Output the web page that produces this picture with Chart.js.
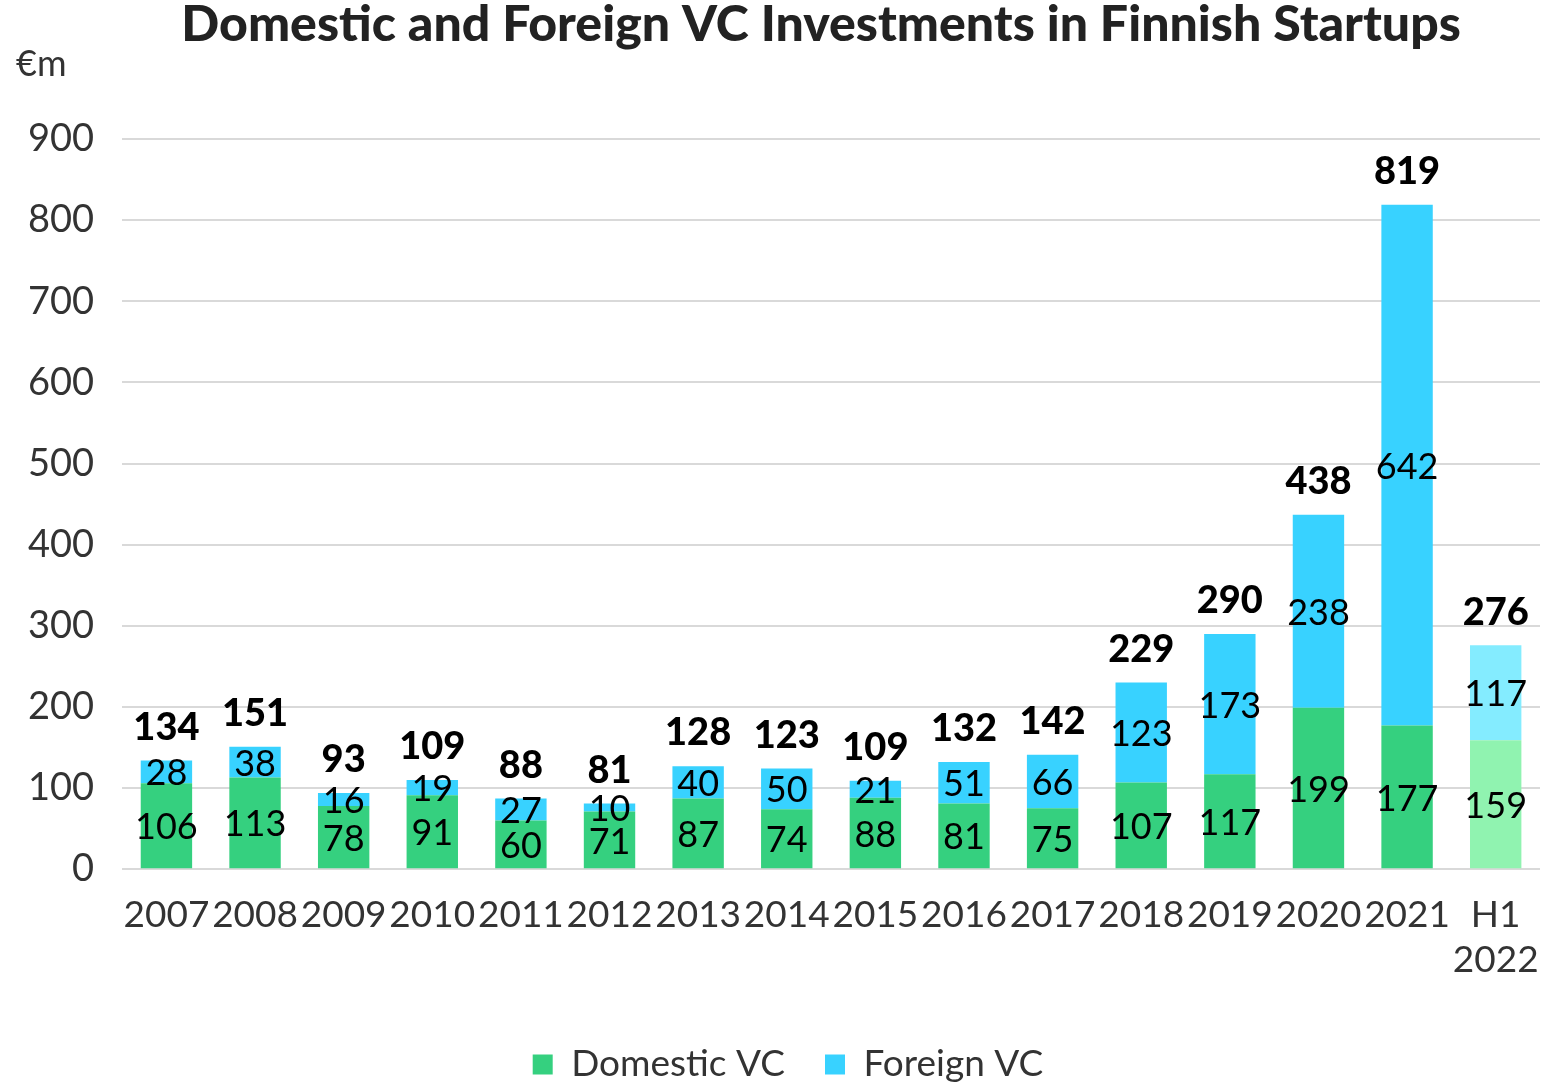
<!DOCTYPE html>
<html>
<head>
<meta charset="utf-8">
<script src="https://cdn.jsdelivr.net/npm/chart.js@4.4.0/dist/chart.umd.min.js"></script>
<style>
  html, body { margin: 0; padding: 0; background: #fff; }
  #wrap { width: 1560px; height: 1085px; }
</style>
</head>
<body>
<div id="wrap"><canvas id="myChart" width="1560" height="1085"></canvas></div>
<script>
const years = ["2007", "2008", "2009", "2010", "2011", "2012", "2013", "2014",
               "2015", "2016", "2017", "2018", "2019", "2020", "2021", ["H1", "2022"]];
const domestic = [106, 113, 78, 91, 60, 71, 87, 74, 88, 81, 75, 107, 117, 199, 177, 159];
const foreign = [28, 38, 16, 19, 27, 10, 40, 50, 21, 51, 66, 123, 173, 238, 642, 117];
const totals = [134, 151, 93, 109, 88, 81, 128, 123, 109, 132, 142, 229, 290, 438, 819, 276];

const green = "#35d07f", blue = "#38d2ff";
const greenLight = "#90f3b0", blueLight = "#84ecff";
const greens = domestic.map((v, i) => i === domestic.length - 1 ? greenLight : green);
const blues = foreign.map((v, i) => i === foreign.length - 1 ? blueLight : blue);

const fontFam = "Lato, 'Noto Sans', sans-serif";
const titleText = "Domestic and Foreign VC Investments in Finnish Startups";

// title, unit, segment values in the middle, totals in bold over the bars
const barLabels = {
    id: 'barLabels',
    afterLayout(chart) {
        // nudge the legend a bit lower and to the right
        const lg = chart.legend;
        lg.top += 8; lg.bottom += 8;
        lg.left += 18; lg.right += 18;
    },
    afterDatasetsDraw(chart) {
        const ctx = chart.ctx;
        const area = chart.chartArea;
        ctx.save();
        ctx.textAlign = 'center';
        ctx.fillStyle = '#000';
        chart.data.datasets.forEach((ds, di) => {
            const meta = chart.getDatasetMeta(di);
            meta.data.forEach((bar, i) => {
                ctx.font = "36px " + fontFam;
                ctx.textBaseline = 'middle';
                ctx.fillText(ds.data[i], bar.x, (bar.y + bar.base) / 2 + 2);
                if (di === 1) {
                    ctx.font = "900 38px " + fontFam;
                    ctx.textBaseline = 'middle';
                    ctx.fillText(totals[i], bar.x, bar.y - 33);
                }
            });
        });
        ctx.font = "900 50px " + fontFam;
        ctx.fillStyle = '#222';
        ctx.textBaseline = 'middle';
        ctx.fillText(titleText, (area.left + area.right) / 2 - 10, 25);

        ctx.font = "36px " + fontFam;
        ctx.fillStyle = '#333';
        ctx.textAlign = 'left';
        ctx.fillText("€m", 16, 64);
        ctx.restore();
    }
};

new Chart("myChart", {
    type: "bar",
    data: {
        labels: years,
        datasets: [
            { label: "Domestic VC", data: domestic, backgroundColor: greens },
            { label: "Foreign VC", data: foreign, backgroundColor: blues }
        ]
    },
    options: {
        responsive: false,
        animation: false,
        datasets: { bar: { categoryPercentage: 0.58, barPercentage: 1 } },
        layout: { padding: { left: 0, right: 20, top: 139, bottom: 0 } },
        scales: {
            x: {
                stacked: true,
                grid: { display: false },
                border: { display: false },
                ticks: { color: '#333', font: { family: fontFam, size: 37 }, padding: 16, maxRotation: 0, autoSkip: false }
            },
            y: {
                stacked: true,
                min: 0, max: 900,
                grid: { color: '#d9d9d9', lineWidth: 2, drawTicks: false },
                border: { display: false },
                ticks: { stepSize: 100, color: '#333', font: { family: fontFam, size: 38 }, padding: 28 }
            }
        },
        plugins: {
            title: { display: false },
            legend: {
                position: 'bottom',
                labels: {
                    color: '#333',
                    font: { family: fontFam, size: 37 },
                    boxWidth: 20, boxHeight: 20,
                    padding: 40,
                    generateLabels(chart) {
                        return [
                            { text: "Domestic VC", fillStyle: green, strokeStyle: green, lineWidth: 0, datasetIndex: 0, fontColor: '#333' },
                            { text: "Foreign VC", fillStyle: blue, strokeStyle: blue, lineWidth: 0, datasetIndex: 1, fontColor: '#333' }
                        ];
                    }
                }
            },
            tooltip: { enabled: false }
        }
    },
    plugins: [barLabels]
});
</script>
</body>
</html>
